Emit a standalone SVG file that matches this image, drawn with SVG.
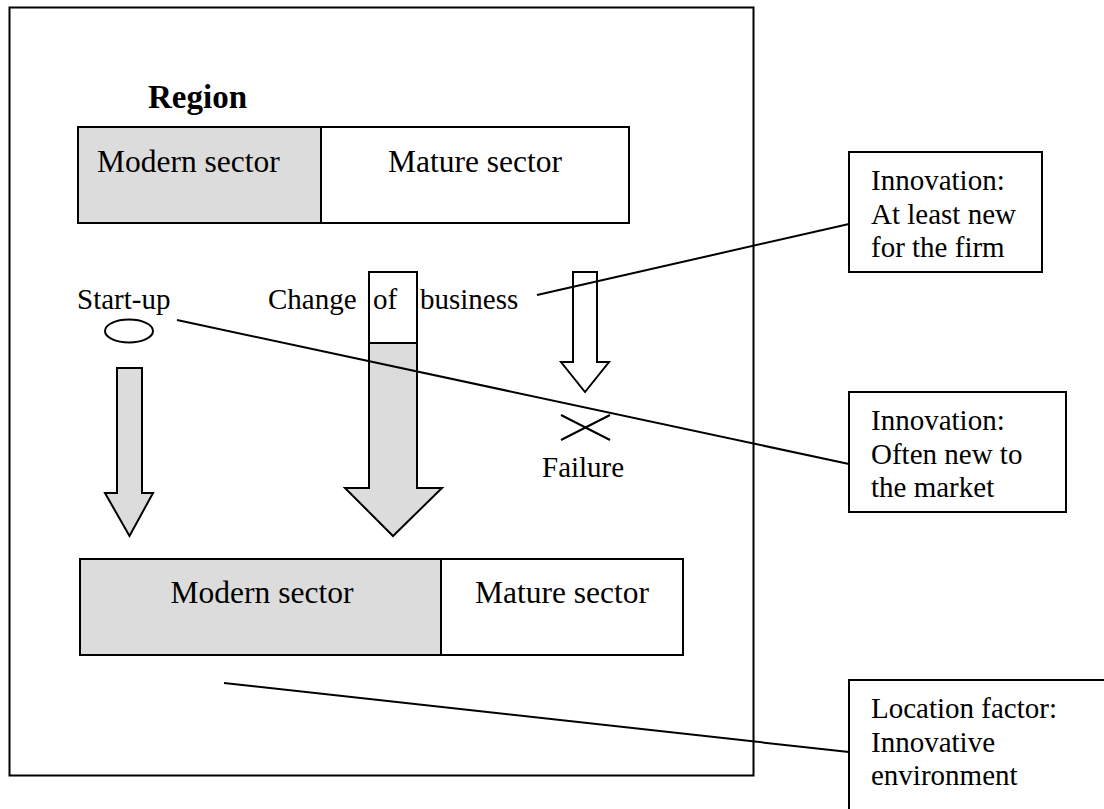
<svg xmlns="http://www.w3.org/2000/svg" width="1104" height="809" viewBox="0 0 1104 809">
  <style>
    .box { fill: #ffffff; stroke: #000000; stroke-width: 2; }
    .grey { fill: #dcdcdc; stroke: #000000; stroke-width: 2; }
    .line { fill: none; stroke: #000000; stroke-width: 2; }
    text { font-family: "Liberation Serif", "Times New Roman", serif; font-size: 29px; fill: #000000; }
    .title { font-size: 33px; font-weight: bold; }
    .sector { font-size: 31.5px; }
    .mid { text-anchor: middle; }
  </style>
  <rect width="1104" height="809" fill="#ffffff"/>

  <!-- region frame -->
  <g id="region">
    <rect class="box" x="9.5" y="7.5" width="744" height="768" stroke-width="2.5"/>
    <text class="title" x="148" y="108">Region</text>
  </g>

  <!-- sectors before -->
  <g id="sectors-before">
    <rect class="grey" x="78" y="127" width="243" height="96"/>
    <rect class="box" x="321" y="127" width="308" height="96"/>
    <text class="sector" x="97" y="172">Modern sector</text>
    <text class="sector mid" x="475" y="172">Mature sector</text>
  </g>

  <!-- start-up arrow -->
  <g id="startup">
    <text x="77" y="309">Start-up</text>
    <ellipse class="box" cx="129" cy="331" rx="24" ry="11.5"/>
    <polygon class="grey" points="117,368 142,368 142,493 153,493 129.5,536 105,493 117,493"/>
  </g>

  <!-- change of business arrow -->
  <g id="change">
    <polygon class="grey" points="369,343 417,343 417,488 442,488 393,536 345,488 369,488"/>
    <rect class="box" x="369" y="272" width="48" height="71"/>
    <text x="268" y="309">Change</text>
    <text x="373" y="309">of</text>
    <text x="420" y="309">business</text>
  </g>

  <!-- failure arrow -->
  <g id="failure">
    <polygon class="box" points="573,272 597,272 597,362 609,362 585,392 561,362 573,362"/>
    <line class="line" x1="561" y1="415" x2="610" y2="440"/>
    <line class="line" x1="561" y1="440" x2="610" y2="415"/>
    <text x="542" y="477">Failure</text>
  </g>

  <!-- sectors after -->
  <g id="sectors-after">
    <rect class="grey" x="80" y="559" width="361" height="96"/>
    <rect class="box" x="441" y="559" width="242" height="96"/>
    <text class="sector mid" x="262" y="603">Modern sector</text>
    <text class="sector mid" x="562" y="603">Mature sector</text>
  </g>

  <!-- annotation boxes -->
  <g id="note-firm">
    <rect class="box" x="849" y="152" width="193" height="120"/>
    <text x="871" y="190">Innovation:</text>
    <text x="871" y="224">At least new</text>
    <text x="871" y="257">for the firm</text>
  </g>
  <g id="note-market">
    <rect class="box" x="849" y="392" width="217" height="120"/>
    <text x="871" y="430">Innovation:</text>
    <text x="871" y="464">Often new to</text>
    <text x="871" y="497">the market</text>
  </g>
  <g id="note-location">
    <rect class="box" x="849" y="680" width="280" height="160"/>
    <text x="871" y="718">Location factor:</text>
    <text x="871" y="752">Innovative</text>
    <text x="871" y="785">environment</text>
  </g>

  <!-- connectors -->
  <g id="connectors">
    <line class="line" x1="537" y1="295" x2="849" y2="224"/>
    <line class="line" x1="177" y1="320" x2="849" y2="464"/>
    <line class="line" x1="224" y1="683" x2="849" y2="752"/>
  </g>
</svg>
